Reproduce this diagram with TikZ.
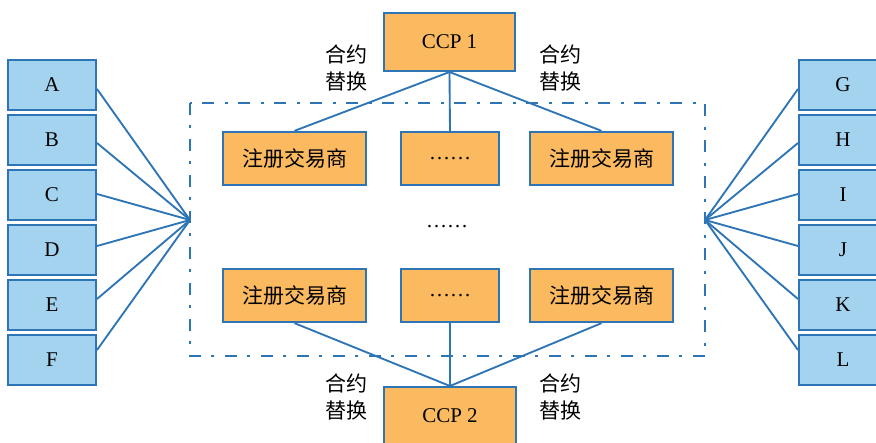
\documentclass[tikz,border=0pt]{standalone}
\usepackage{fontspec}
\setmainfont{Liberation Serif}
\newfontfamily\cjk{Noto Sans CJK SC}
\usetikzlibrary{calc}
\definecolor{lineblue}{RGB}{46,117,182}
\definecolor{fillblue}{RGB}{164,211,240}
\definecolor{fillorange}{RGB}{251,186,96}
\tikzset{
  txt/.style={font=\fontsize{15.75pt}{20.25pt}\selectfont},
  bluebox/.style={draw=lineblue, fill=fillblue, line width=1.5pt, inner sep=0pt,
    minimum width=66pt, minimum height=37.5pt, txt},
  orangebox/.style={draw=lineblue, fill=fillorange, line width=1.5pt, inner sep=0pt, txt},
  ccpbox/.style={orangebox, minimum width=98.5pt, minimum height=43.5pt},
  dealerbox/.style={orangebox, minimum width=107pt, minimum height=40pt},
  dotbox/.style={orangebox, minimum width=73.5pt, minimum height=40pt},
  conn/.style={draw=lineblue, line width=1.4pt},
  swaplabel/.style={align=center, font=\cjk\fontsize{15.75pt}{20.25pt}\selectfont, inner sep=0pt},
  frame/.style={draw=lineblue, line width=1.5pt, dash pattern=on 9pt off 7.5pt on 2.5pt off 8pt}
}
\begin{document}
\begin{tikzpicture}[x=0.75pt,y=-0.75pt]
\useasboundingbox (0,0) rectangle (876,443);
% dashed frame
\draw[frame] (190,103) rectangle (705,356);
\coordinate (LC) at (190,220);
\coordinate (RC) at (705,220);
% left boxes
\node[bluebox] (A) at (52,85) {A};
\node[bluebox] (B) at (52,140) {B};
\node[bluebox] (C) at (52,195) {C};
\node[bluebox] (D) at (52,250) {D};
\node[bluebox] (E) at (52,305) {E};
\node[bluebox] (F) at (52,360) {F};
% right boxes
\node[bluebox] (G) at (843,85) {G};
\node[bluebox] (H) at (843,140) {H};
\node[bluebox] (I) at (843,195) {I};
\node[bluebox] (J) at (843,250) {J};
\node[bluebox] (K) at (843,305) {K};
\node[bluebox] (L) at (843,360) {L};
% CCPs
\node[ccpbox] (CCP1) at (449.5,42) {CCP 1};
\node[ccpbox] (CCP2) at (450,416) {CCP 2};
% dealers
\node[dealerbox] (T1) at (294.5,158.5) {\cjk 注册交易商};
\node[dotbox] (T2) at (450,158.5) {……};
\node[dealerbox] (T3) at (601.5,158.5) {\cjk 注册交易商};
\node[dealerbox] (B1) at (294.5,295.5) {\cjk 注册交易商};
\node[dotbox] (B2) at (450,295.5) {……};
\node[dealerbox] (B3) at (601.5,295.5) {\cjk 注册交易商};
\node[txt, inner sep=0pt] (MID) at (447,227) {……};
% labels
\node[swaplabel] (S1) at (346,67.5) {合约\\替换};
\node[swaplabel] (S2) at (560,67.5) {合约\\替换};
\node[swaplabel] (S3) at (346,396.5) {合约\\替换};
\node[swaplabel] (S4) at (560,396.5) {合约\\替换};
% connectors CCP1
\draw[conn] (CCP1.south) -- (T1.north);
\draw[conn] (CCP1.south) -- (T2.north);
\draw[conn] (CCP1.south) -- (T3.north);
% connectors CCP2
\draw[conn] (CCP2.north) -- (B1.south);
\draw[conn] (CCP2.north) -- (B2.south);
\draw[conn] (CCP2.north) -- (B3.south);
% left fan
\draw[conn] ($(A.east)+(0,4)$) -- (LC);
\draw[conn] ($(B.east)+(0,3)$) -- (LC);
\draw[conn] ($(C.east)+(0,-1)$) -- (LC);
\draw[conn] ($(D.east)+(0,-4)$) -- (LC);
\draw[conn] ($(E.east)+(0,-6)$) -- (LC);
\draw[conn] ($(F.east)+(0,-10)$) -- (LC);
% right fan
\draw[conn] ($(G.west)+(0,4)$) -- (RC);
\draw[conn] ($(H.west)+(0,3)$) -- (RC);
\draw[conn] ($(I.west)+(0,-1)$) -- (RC);
\draw[conn] ($(J.west)+(0,-4)$) -- (RC);
\draw[conn] ($(K.west)+(0,-6)$) -- (RC);
\draw[conn] ($(L.west)+(0,-10)$) -- (RC);
\end{tikzpicture}
\end{document}
